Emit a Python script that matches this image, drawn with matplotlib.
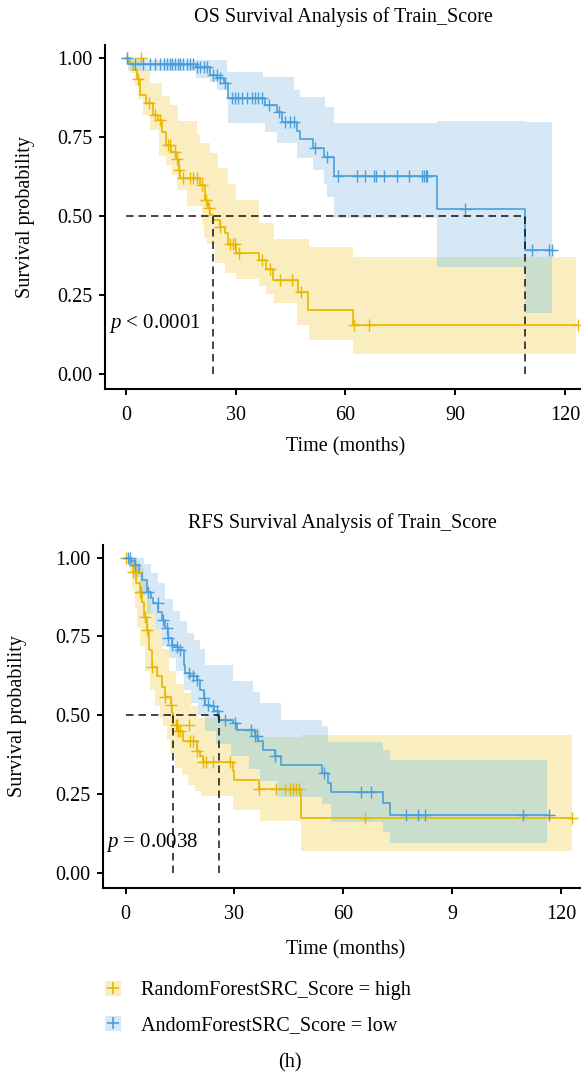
import numpy as np
import matplotlib
matplotlib.use("Agg")
import matplotlib.pyplot as plt
from matplotlib.patches import Patch
from matplotlib.lines import Line2D

plt.rcParams["font.family"] = ["Liberation Serif", "DejaVu Serif"]
plt.rcParams["mathtext.fontset"] = "custom"
plt.rcParams["mathtext.it"] = "Liberation Serif:italic"
plt.rcParams["mathtext.rm"] = "Liberation Serif"

# ---- OS, group high (yellow) ----
os_high_t = [0, 1.0, 2.0, 3.0, 3.8, 5.5, 7.3, 8.7, 9.7, 11.0, 12.4, 13.8, 14.5, 14.8, 20.2,
             21.5, 22.4, 23.0, 23.9, 25.7, 27.0, 27.9, 30.2, 36.4, 38.4, 40.3, 47.1, 49.8, 62.1, 123.5]
os_high_s = [1.0, 0.982, 0.96, 0.934, 0.881, 0.855, 0.818, 0.802, 0.765, 0.723, 0.702, 0.681, 0.644,
             0.618, 0.597, 0.549, 0.523, 0.502, 0.486, 0.465, 0.444, 0.412, 0.382, 0.359, 0.333, 0.298,
             0.259, 0.203, 0.153, 0.153]
os_high_hi_t = [0, 4.5, 6.6, 9.8, 12.0, 14.3, 19.4, 20.3, 22.9, 25.2, 27.9, 30.2, 36.3, 40.4, 49.9, 62.1]
os_high_hi = [1.0, 0.96, 0.92, 0.88, 0.85, 0.80, 0.76, 0.73, 0.70, 0.65, 0.60, 0.55, 0.476, 0.428, 0.40, 0.37]
os_high_lo_t = [0, 1.0, 2.5, 3.4, 4.7, 6.6, 8.9, 11.0, 12.5, 13.9, 16.6, 20.7, 21.2, 22.1, 24.4, 27.1,
                30.2, 36.3, 38.4, 40.4, 46.7, 49.9, 62.1]
os_high_lo = [1.0, 0.95, 0.91, 0.87, 0.82, 0.77, 0.69, 0.66, 0.63, 0.58, 0.53, 0.47, 0.43, 0.41, 0.35,
              0.32, 0.30, 0.277, 0.254, 0.223, 0.153, 0.106, 0.064]
os_high_ci_end = 123.0
os_high_cens = [0.2, 3.3, 6.4, 7.8, 9.2, 11.5, 12.1, 13.4, 13.9, 14.6, 15.7, 17.5, 18.4, 19.3, 20.7,
                21.9, 22.7, 25.8, 28.5, 29.2, 29.9, 31.0, 37.2, 39.5, 42.2, 45.4, 47.8, 62.3, 66.4, 123.5]
os_high_extra_t = [4.0]
os_high_extra_s = [1.0]

# ---- OS, group low (blue) ----
os_low_t = [0, 0.5, 19.0, 23.0, 24.9, 26.9, 28.0, 38.0, 41.3, 42.7, 46.7, 47.6, 51.1, 54.0, 56.8,
            85.0, 109.1, 116.6]
os_low_s = [1.0, 0.979, 0.969, 0.945, 0.935, 0.92, 0.873, 0.85, 0.828, 0.797, 0.767, 0.742, 0.715,
            0.686, 0.625, 0.52, 0.391, 0.391]
os_low_hi_t = [0, 0.5, 27.6, 37.5, 46.0, 47.5, 54.5, 56.8, 85.0, 109.1]
os_low_hi = [1.0, 0.992, 0.955, 0.94, 0.897, 0.876, 0.844, 0.793, 0.799, 0.795]
os_low_lo_t = [0, 0.5, 19.0, 23.0, 25.0, 28.0, 38.0, 41.3, 46.7, 51.1, 54.0, 55.0, 56.8, 85.0, 109.1]
os_low_lo = [1.0, 0.958, 0.935, 0.923, 0.897, 0.793, 0.765, 0.729, 0.682, 0.644, 0.60, 0.56, 0.493,
             0.338, 0.192]
os_low_ci_end = 116.4
os_low_cens = [0.3, 2.45, 4.76, 6.6, 7.95, 9.3, 10.3, 11.2, 12.1, 12.5, 13.4, 14.3, 14.8, 15.7, 16.6,
               17.5, 18.4, 19.4, 20.3, 21.2, 22.1, 23.9, 24.8, 25.8, 27.1, 28.9, 29.8, 30.7, 31.6,
               33.0, 34.4, 35.3, 36.2, 37.1, 39.0, 41.7, 43.5, 44.9, 45.8, 51.7, 54.9, 57.9, 63.2,
               65.3, 67.9, 68.4, 70.5, 74.2, 77.5, 81.0, 81.4, 81.9, 82.4, 92.6, 111.1, 115.7, 116.6]

# ---- RFS, group high (yellow) ----
rfs_high_t = [0, 1.0, 1.7, 2.2, 3.0, 3.9, 4.6, 5.1, 5.8, 6.4, 7.4, 8.7, 10.1, 11.0, 12.4, 12.7, 13.0,
              14.6, 15.9, 19.6, 20.5, 21.4, 29.6, 30.0, 36.8, 48.3, 122.9]
rfs_high_s = [1.0, 0.985, 0.976, 0.955, 0.918, 0.892, 0.86, 0.813, 0.771, 0.707, 0.654, 0.623, 0.591,
              0.559, 0.533, 0.507, 0.47, 0.449, 0.417, 0.385, 0.37, 0.352, 0.322, 0.296, 0.265,
              0.175, 0.175]
rfs_high_hi_t = [0, 3, 4, 5, 6, 7, 8, 10, 12, 14, 16, 18, 20, 30, 37, 48.3]
rfs_high_hi = [1.0, 0.99, 0.97, 0.93, 0.88, 0.82, 0.77, 0.71, 0.64, 0.60, 0.57, 0.53, 0.49, 0.46,
               0.43, 0.438]
rfs_high_lo_t = [0, 1.0, 1.7, 2.6, 3.1, 4.0, 5.4, 6.7, 8.1, 9.5, 10.4, 11.3, 12.2, 13.6, 15.5, 17.3,
                 19.2, 20.7, 29.5, 37.0, 48.3]
rfs_high_lo = [1.0, 0.95, 0.90, 0.84, 0.78, 0.72, 0.64, 0.58, 0.53, 0.49, 0.465, 0.42, 0.38, 0.333,
               0.31, 0.28, 0.259, 0.243, 0.2, 0.164, 0.069]
rfs_high_ci_end = 122.9
rfs_high_cens = [0.2, 2.2, 2.9, 3.9, 4.3, 5.4, 6.0, 7.4, 11.0, 12.4, 13.8, 14.2, 14.6, 15.0, 17.7,
                 18.6, 19.6, 21.4, 22.3, 24.1, 28.7, 36.8, 41.5, 44.0, 45.3, 46.2, 47.1, 47.9,
                 66.0, 122.9]
rfs_high_extra_t = [17.4]
rfs_high_extra_s = [0.47]

# ---- RFS, group low (blue) ----
rfs_low_t = [0, 1.5, 2.5, 3.6, 4.45, 5.8, 7.0, 7.7, 9.05, 10.0, 10.9, 11.8, 12.7, 13.6, 14.5, 16.0,
             16.4, 17.8, 19.6, 20.5, 21.5, 21.9, 23.3, 24.5, 25.7, 29.7, 30.6, 35.6, 36.5, 37.9,
             41.1, 42.9, 54.2, 55.9, 56.6, 71.0, 72.9, 116.6]
rfs_low_s = [1.0, 0.988, 0.976, 0.95, 0.929, 0.892, 0.872, 0.855, 0.828, 0.802, 0.776, 0.744, 0.723,
             0.718, 0.707, 0.66, 0.634, 0.623, 0.613, 0.581, 0.555, 0.533, 0.528, 0.512, 0.486,
             0.475, 0.454, 0.433, 0.417, 0.39, 0.37, 0.343, 0.317, 0.285, 0.257, 0.222, 0.184, 0.184]
rfs_low_hi_t = [0, 5, 7, 9, 11, 13, 15, 17, 19, 20.5, 22, 29.7, 35.2, 37, 42.9, 54.2, 55.9, 71.0, 72.9]
rfs_low_hi = [1.0, 0.98, 0.95, 0.92, 0.87, 0.83, 0.80, 0.76, 0.74, 0.71, 0.66, 0.61, 0.575, 0.54,
              0.486, 0.465, 0.414, 0.39, 0.357]
rfs_low_lo_t = [0, 1, 2, 4, 6, 8, 10, 12, 14, 16, 18, 20, 22, 25, 29, 34, 37, 42, 54.2, 56.6, 71.0, 72.9]
rfs_low_lo = [1.0, 0.97, 0.94, 0.88, 0.82, 0.77, 0.72, 0.68, 0.64, 0.58, 0.54, 0.50, 0.45, 0.41, 0.37,
              0.33, 0.29, 0.24, 0.22, 0.16, 0.13, 0.095]
rfs_low_ci_end = 116.0
rfs_low_cens = [0.8, 1.3, 2.6, 6.2, 9.0, 10.4, 11.3, 11.8, 12.7, 14.1, 15.0, 17.4, 18.7, 19.6, 21.5,
                22.8, 24.2, 25.1, 27.4, 30.2, 34.7, 35.6, 36.1, 41.1, 54.8, 64.9, 67.6, 77.3, 80.5,
                82.4, 109.4, 116.6]

titles = ["OS Survival Analysis of Train_Score", "RFS Survival Analysis of Train_Score"]
pvals = ["$p$ < 0.0001", "$p$ = 0.0038"]
xticks = [0, 30, 60, 90, 120]
xticklabels = [["0", "30", "60", "90", "120"], ["0", "30", "60", "9", "120"]]
yticks = [0.0, 0.25, 0.5, 0.75, 1.0]
legend_labels = ["RandomForestSRC_Score = high", "AndomForestSRC_Score = low"]

YEL = "#E7B800"
BLU = "#4A9FDA"
YEL_FILL = "#FAEDBF"
BLU_FILL = "#D6E8F6"
OVL_FILL = "#C9DECD"


def step_at(t, ts, vs):
    idx = np.searchsorted(ts, t, side="right") - 1
    return np.asarray(vs)[np.clip(idx, 0, None)]


def band(hi_t, hi, lo_t, lo, end):
    grid = np.unique(np.concatenate([hi_t, lo_t, [end]]))
    grid = grid[grid <= end]
    return grid, step_at(grid, hi_t, hi), step_at(grid, lo_t, lo)


fig = plt.figure(figsize=(5.81, 10.75), dpi=100)
W, H = 581.0, 1075.0

panels = [
    dict(box=(105, 45, 581, 389), xlim=(-5.75, 124.4),
         high=(os_high_t, os_high_s, os_high_hi_t, os_high_hi, os_high_lo_t, os_high_lo,
               os_high_ci_end, os_high_cens, os_high_extra_t, os_high_extra_s),
         low=(os_low_t, os_low_s, os_low_hi_t, os_low_hi, os_low_lo_t, os_low_lo,
              os_low_ci_end, os_low_cens, [], []),
         title_y=17, ylab_x=26, xlab_y=447, ptxt=(-4.6, 0.16)),
    dict(box=(103, 545, 581, 888), xlim=(-6.2, 125.5),
         high=(rfs_high_t, rfs_high_s, rfs_high_hi_t, rfs_high_hi, rfs_high_lo_t, rfs_high_lo,
               rfs_high_ci_end, rfs_high_cens, rfs_high_extra_t, rfs_high_extra_s),
         low=(rfs_low_t, rfs_low_s, rfs_low_hi_t, rfs_low_hi, rfs_low_lo_t, rfs_low_lo,
              rfs_low_ci_end, rfs_low_cens, [], []),
         title_y=523, ylab_x=18, xlab_y=950, ptxt=(-5.3, 0.097)),
]

for i, p in enumerate(panels):
    x0, y0, x1, y1 = p["box"]
    ax = fig.add_axes([x0 / W, 1 - y1 / H, (x1 - x0) / W, (y1 - y0) / H])
    ax.set_xlim(*p["xlim"])
    ax.set_ylim(-0.048, 1.04)

    bands = []
    for key, fill in (("high", YEL_FILL), ("low", BLU_FILL)):
        t, s, hi_t, hi, lo_t, lo, end, cens, ex_t, ex_s = p[key]
        g, h, l = band(hi_t, hi, lo_t, lo, end)
        ax.fill_between(g, l, h, step="post", color=fill, lw=0, zorder=1)
        bands.append((hi_t, hi, lo_t, lo, end))

    # overlap of the two confidence bands
    (ha, hav, la, lav, ea), (hb, hbv, lb, lbv, eb) = bands
    end = min(ea, eb)
    g = np.unique(np.concatenate([ha, la, hb, lb, [end]]))
    g = g[g <= end]
    top = np.minimum(step_at(g, ha, hav), step_at(g, hb, hbv))
    bot = np.maximum(step_at(g, la, lav), step_at(g, lb, lbv))
    top = np.maximum(top, bot)
    ax.fill_between(g, bot, top, step="post", color=OVL_FILL, lw=0, zorder=2)

    medians = []
    for key, col in (("high", YEL), ("low", BLU)):
        t, s, hi_t, hi, lo_t, lo, end, cens, ex_t, ex_s = p[key]
        ax.step(t, s, where="post", color=col, lw=1.2, zorder=3)
        ct = np.asarray(cens)
        ax.plot(ct, step_at(ct, t, s), ls="none", marker="+", ms=8, mew=1.0, color=col, zorder=4)
        if ex_t:
            ax.plot(ex_t, ex_s, ls="none", marker="+", ms=8, mew=1.0, color=col, zorder=4)
        s_arr = np.asarray(s)
        medians.append(np.asarray(t)[np.argmax(s_arr <= 0.5)])

    ax.plot([0, max(medians)], [0.5, 0.5], color="black", ls=(0, (4.5, 3)), lw=1.2, alpha=0.85, zorder=5)
    for m in medians:
        ax.plot([m, m], [0, 0.5], color="black", ls=(0, (4.5, 3)), lw=1.2, alpha=0.85, zorder=5)

    ax.text(p["ptxt"][0], p["ptxt"][1], pvals[i], fontsize=15, va="center", ha="left")

    for sp in ("top", "right"):
        ax.spines[sp].set_visible(False)
    for sp in ("left", "bottom"):
        ax.spines[sp].set_linewidth(1.5)
    ax.set_xticks(xticks)
    ax.set_xticklabels(xticklabels[i])
    ax.set_yticks(yticks)
    ax.set_yticklabels(["0.00", "0.25", "0.50", "0.75", "1.00"])
    ax.tick_params(direction="out", length=4, width=1.4, labelsize=14.5, pad=5)
    ax.tick_params(axis="x", pad=8)

    fig.text((x0 + x1) / 2 / W, 1 - p["title_y"] / H, titles[i], ha="center", va="center", fontsize=14.5)
    fig.text(p["ylab_x"] / W, 1 - (y0 + y1) / 2 / H, "Survival probability", rotation=90,
             ha="center", va="center", fontsize=14.5)
    fig.text(346 / W, 1 - p["xlab_y"] / H, "Time (months)", ha="center", va="center", fontsize=14.5)

handles = [
    (Patch(facecolor=YEL_FILL, edgecolor="none"),
     Line2D([], [], ls="none", marker="+", ms=9, mew=1.2, color=YEL)),
    (Patch(facecolor=BLU_FILL, edgecolor="none"),
     Line2D([], [], ls="none", marker="+", ms=9, mew=1.2, color=BLU)),
]
fig.legend(handles, legend_labels, loc="center left", bbox_to_anchor=(105 / W, 1 - 1008 / H),
           frameon=False, fontsize=14.5, handlelength=0.8, handleheight=0.8, handletextpad=1.0,
           labelspacing=0.75, borderaxespad=0, borderpad=0)
fig.text(290 / W, 1 - 1063 / H, "(h)", ha="center", va="center", fontsize=14.5)

fig.savefig("out.png", dpi=100)
